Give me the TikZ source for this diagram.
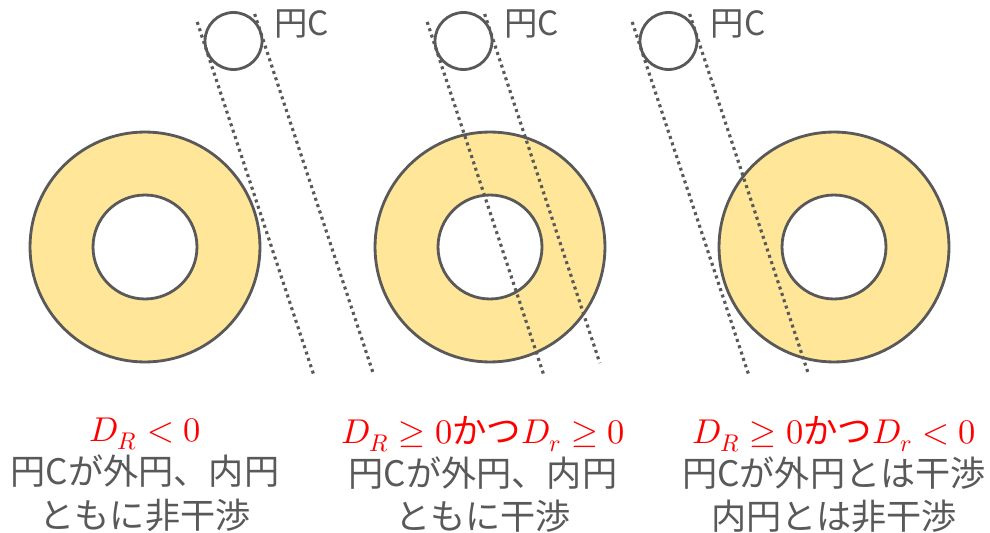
\documentclass[tikz,border=0pt]{standalone}
\usepackage{fontspec}
\usepackage{unicode-math}
\setmainfont{Noto Sans CJK JP}
\setmathfont{Latin Modern Math}
\usetikzlibrary{positioning, calc}
\definecolor{RingYellow}{RGB}{255,230,153}
\definecolor{LineGray}{RGB}{89,89,89}

\begin{document}
\begin{tikzpicture}[x=0.02cm, y=-0.02cm,
    ring/.style={draw=LineGray, line width=1.6pt, circle, inner sep=0pt},
    track/.style={LineGray, line width=1.8pt, dash pattern=on 1.7pt off 2.1pt},
    cond/.style={red, inner sep=0pt, font=\fontsize{19.6}{23}\selectfont},
    desc/.style={LineGray, inner sep=0pt, align=center, font=\fontsize{20}{25}\selectfont},
    tag/.style={LineGray, inner sep=0pt, font=\fontsize{19}{23}\selectfont}]
    \useasboundingbox (0,0) rectangle (990,533);

    % rings
    \node[ring, fill=RingYellow, minimum size=4.6cm] (outer1) at (145,247) {};
    \node[ring, fill=white, minimum size=2.08cm] (inner1) at (145,247) {};
    \node[ring, fill=RingYellow, minimum size=4.6cm] (outer2) at (490,247) {};
    \node[ring, fill=white, minimum size=2.08cm] (inner2) at (490,247) {};
    \node[ring, fill=RingYellow, minimum size=4.6cm] (outer3) at (834,247) {};
    \node[ring, fill=white, minimum size=2.08cm] (inner3) at (834,247) {};

    % circle C
    \node[ring, minimum size=1.14cm] (circ1) at (233.5,41) {};
    \node[ring, minimum size=1.14cm] (circ2) at (463.5,41) {};
    \node[ring, minimum size=1.14cm] (circ3) at (668.5,41) {};
    \node[tag] (tag1) at (301.5,24) {円C};
    \node[tag] (tag2) at (531.5,24) {円C};
    \node[tag] (tag3) at (738,24) {円C};

    % path of circle C
    \draw[track] ($(circ1)+(-36.3,-19)$) -- ($(circ1)+(80.6,335)$);
    \draw[track] ($(circ1)+(21.1,-27)$) -- ($(circ1)+(139.9,333)$);
    \draw[track] ($(circ2)+(-36.3,-19)$) -- ($(circ2)+(80.6,335)$);
    \draw[track] ($(circ2)+(21.1,-27)$) -- ($(circ2)+(136.3,322)$);
    \draw[track] ($(circ3)+(-36.3,-19)$) -- ($(circ3)+(80.6,335)$);
    \draw[track] ($(circ3)+(21.1,-27)$) -- ($(circ3)+(139.9,333)$);

    % conditions
    \node[cond] (cond1) at (145,434) {$D_R < 0$};
    \node[cond] (cond2) at (483,434) {$D_R \geq 0$かつ$D_r \geq 0$};
    \node[cond] (cond3) at (834,434) {$D_R \geq 0$かつ$D_r < 0$};
    \node[desc, below=0.07cm of cond1] (desc1) {円Cが外円、内円\\ともに非干渉};
    \node[desc, below=0.07cm of cond2] (desc2) {円Cが外円、内円\\ともに干渉};
    \node[desc, below=0.07cm of cond3] (desc3) {円Cが外円とは干渉\\内円とは非干渉};
\end{tikzpicture}
\end{document}
